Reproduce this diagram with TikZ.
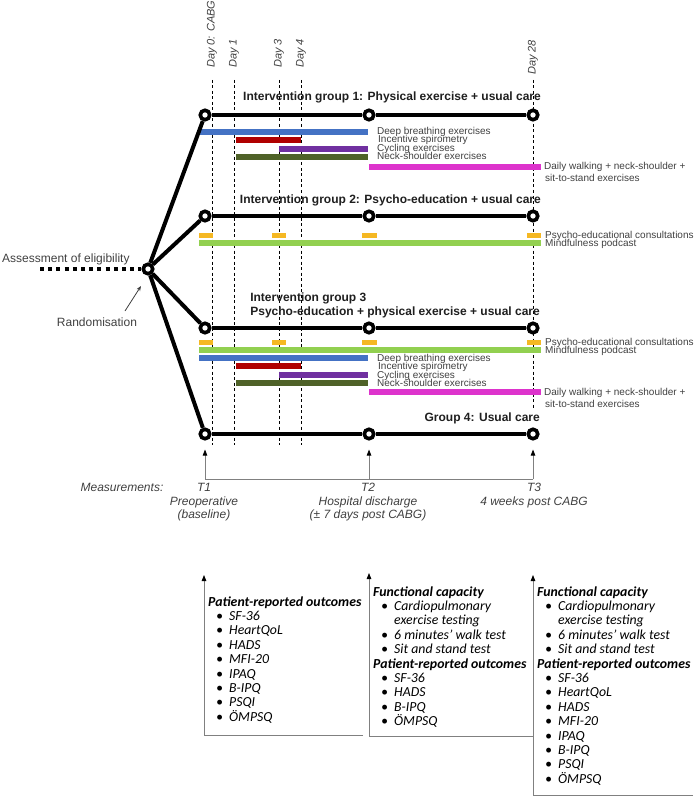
\documentclass[tikz,border=0pt]{standalone}
\usepackage{fontspec}
\setmainfont{Liberation Sans}
\newfontfamily\calfont{Carlito}
\usetikzlibrary{arrows.meta}
\definecolor{cblue}{HTML}{4472C4}
\definecolor{cred}{HTML}{B00000}
\definecolor{cpurple}{HTML}{7030A0}
\definecolor{cgreen}{HTML}{4F6228}
\definecolor{cmagenta}{HTML}{DD33CC}
\definecolor{corange}{HTML}{F5B823}
\definecolor{clgreen}{HTML}{92D050}
\definecolor{labelgray}{HTML}{404040}
\definecolor{titlegray}{HTML}{1F1F1F}
\definecolor{linegray}{HTML}{808080}
\newcommand\bxh[1]{\bfseries #1}
\newcommand\bxb[1]{\hspace*{8pt}\makebox[13pt][l]{\textbullet}#1}
\newcommand\bxc[1]{\hspace*{21pt}#1}
\newcommand\boxlist[4]{%
  \foreach \k/\t [count=\i from 0] in {#3} {
    \node[boxtxt] (#4-\i) at (#1,{#2+14.4*\i}) {\csname bx\k\endcsname{\t}};
  }}
\begin{document}
\begin{tikzpicture}[x=1pt,y=-1pt,
  tl/.style={line width=4pt},
  dot/.style={circle,draw,line width=3.6pt,fill=white,minimum size=9.5pt,inner sep=0pt},
  bar/.style={line width=6pt},
  obar/.style={line width=5pt,draw=corange},
  dayline/.style={dash pattern=on 3pt off 2.5pt,line width=0.7pt},
  lbl/.style={font=\fontsize{10}{10}\selectfont,text=labelgray,inner sep=0pt,anchor=base west},
  ttl/.style={font=\fontsize{12}{12}\selectfont\bfseries,text=titlegray,inner sep=0pt},
  meas/.style={font=\fontsize{12}{12}\selectfont\itshape,text=labelgray,inner sep=0pt,anchor=base},
  daylbl/.style={font=\fontsize{11}{11}\selectfont\itshape,text=labelgray,inner sep=0pt,rotate=90,anchor=west},
  garr/.style={line width=0.8pt,draw=linegray,-{Triangle[length=6pt,width=4.5pt,color=black]}},
  gline/.style={line width=0.8pt,draw=linegray},
  boxtxt/.style={font=\fontsize{13.8}{14}\selectfont\calfont\itshape,inner sep=0pt,anchor=base west}
]
\useasboundingbox (0,0) rectangle (700,805);

% day lines
\foreach \n/\x/\yb in {d0/212/445,d1/234/445,d3/279/445,d4/301/445,d28/533/408}{
  \coordinate (\n top) at (\x,80);
  \coordinate (\n bot) at (\x,\yb);
  \draw[dayline] (\n top) -- (\n bot);
}
\node[daylbl] (l0) at (212,68) {Day 0: CABG};
\node[daylbl] (l1) at (234,68) {Day 1};
\node[daylbl] (l3) at (279,68) {Day 3};
\node[daylbl] (l4) at (301,68) {Day 4};
\node[daylbl] (l28) at (533,75) {Day 28};

% group 1 bars
\draw[bar,cblue] (199,132) -- (368,132);
\draw[bar,cred] (236,140) -- (301,140);
\draw[bar,cpurple] (279,149) -- (368,149);
\draw[bar,cgreen] (236,157) -- (368,157);
\draw[bar,cmagenta] (369,167) -- (541,167);
\node[lbl] (a1) at (377,135) {Deep breathing exercises};
\node[lbl] (a2) at (378,143) {Incentive spirometry};
\node[lbl] (a3) at (377,152) {Cycling exercises};
\node[lbl] (a4) at (377,160) {Neck-shoulder exercises};
\node[lbl] (a5) at (544,170) {Daily walking + neck-shoulder +};
\node[lbl] (a6) at (545,182) {sit-to-stand exercises};

% group 2 bars
\foreach \xa/\xb in {199/213,272/286,362/377,527/541}{\draw[obar] (\xa,235) -- (\xb,235);}
\draw[bar,clgreen] (199,243) -- (541,243);
\node[lbl] (b1) at (545,238) {Psycho-educational consultations};
\node[lbl] (b2) at (545,246.5) {Mindfulness podcast};

% group 3 bars
\foreach \xa/\xb in {199/213,272/286,362/377,527/541}{\draw[obar] (\xa,342) -- (\xb,342);}
\draw[bar,clgreen] (199,350) -- (541,350);
\draw[bar,cblue] (199,358) -- (368,358);
\draw[bar,cred] (236,366) -- (301,366);
\draw[bar,cpurple] (279,375) -- (368,375);
\draw[bar,cgreen] (236,383) -- (368,383);
\draw[bar,cmagenta] (369,392) -- (541,392);
\node[lbl] (c1) at (545,345) {Psycho-educational consultations};
\node[lbl] (c2) at (545,353.5) {Mindfulness podcast};
\node[lbl] (c3) at (377,361) {Deep breathing exercises};
\node[lbl] (c4) at (378,369) {Incentive spirometry};
\node[lbl] (c5) at (377,378) {Cycling exercises};
\node[lbl] (c6) at (377,386) {Neck-shoulder exercises};
\node[lbl] (c7) at (544,395) {Daily walking + neck-shoulder +};
\node[lbl] (c8) at (545,407) {sit-to-stand exercises};

% titles
\node[ttl,anchor=base east] (t1) at (541,100.5) {Intervention group 1: Physical exercise + usual care};
\node[ttl,anchor=base east] (t2) at (541,203.5) {Intervention group 2: Psycho-education + usual care};
\node[ttl,anchor=base east] (t3b) at (540,315) {Psycho-education + physical exercise + usual care};
\node[ttl,anchor=base west] (t3a) at ([yshift=14pt]t3b.base west) {Intervention group 3};
\node[ttl,anchor=base east] (t4) at (540,421.5) {Group 4: Usual care};

% circles
\node[dot] (rand) at (148,269) {};
\foreach \g/\y in {1/115,2/216,3/328,4/434}{
  \node[dot] (g\g a) at (205,\y) {};
  \node[dot] (g\g b) at (369,\y) {};
  \node[dot] (g\g c) at (533,\y) {};
  \draw[tl] (g\g a) -- (g\g b);
  \draw[tl] (g\g b) -- (g\g c);
  \draw[tl] (rand) -- (g\g a);
}

% eligibility
\coordinate (elig) at (40,269);
\draw[line width=4pt,dash pattern=on 4pt off 4.2pt] (elig) -- (rand);
\node[font=\fontsize{12}{12}\selectfont,text=labelgray,inner sep=0pt,anchor=base west] (elab) at (2,262.5) {Assessment of eligibility};
\node[font=\fontsize{12}{12}\selectfont,text=labelgray,inner sep=0pt,anchor=base] (rlab) at (97,326.5) {Randomisation};
\coordinate (ra1) at (125,311);
\coordinate (ra2) at (141,286);
\draw[line width=0.8pt,draw=labelgray,-{Stealth[length=5pt,width=4pt]}] (ra1) -- (ra2);

% measurements
\coordinate (m1) at (205,479);
\coordinate (m2) at (369,479);
\coordinate (m3) at (533,479);
\draw[gline] (m1) -- (m3);
\draw[garr] (m1) -- ([yshift=-9pt]g4a.south);
\draw[garr] (m2) -- ([yshift=-9pt]g4b.south);
\draw[garr] (m3) -- ([yshift=-9pt]g4c.south);
\node[meas] (mm) at (122,491) {Measurements:};
\node[meas] (T1) at (204,491) {T1};
\node[meas] (T1a) at (204,505) {Preoperative};
\node[meas] (T1b) at (204,518.5) {(baseline)};
\node[meas] (T2) at (368,491) {T2};
\node[meas] (T2a) at (368,505) {Hospital discharge};
\node[meas] (T2b) at (368,518.5) {(± 7 days post CABG)};
\node[meas] (T3) at (534,491) {T3};
\node[meas] (T3a) at (534,505) {4 weeks post CABG};

% bottom brackets
\coordinate (b1r) at (363,735); \coordinate (b1c) at (204,735); \coordinate (b1t) at (204,575);
\coordinate (b2r) at (533,736); \coordinate (b2c) at (369,736); \coordinate (b2t) at (369,573);
\coordinate (b3r) at (693,795); \coordinate (b3c) at (533,795); \coordinate (b3t) at (533,575);
\draw[garr] (b1r) -- (b1c) -- (b1t);
\draw[garr] (b2r) -- (b2c) -- (b2t);
\draw[garr] (b3r) -- (b3c) -- (b3t);

\boxlist{208}{606}{h/Patient-reported outcomes,b/SF-36,b/HeartQoL,b/HADS,b/MFI-20,b/IPAQ,b/B-IPQ,b/PSQI,b/ÖMPSQ}{x1}
\boxlist{373}{596}{h/Functional capacity,b/Cardiopulmonary,c/exercise testing,b/6 minutes’ walk test,b/Sit and stand test,h/Patient-reported outcomes,b/SF-36,b/HADS,b/B-IPQ,b/ÖMPSQ}{x2}
\boxlist{537}{596}{h/Functional capacity,b/Cardiopulmonary,c/exercise testing,b/6 minutes’ walk test,b/Sit and stand test,h/Patient-reported outcomes,b/SF-36,b/HeartQoL,b/HADS,b/MFI-20,b/IPAQ,b/B-IPQ,b/PSQI,b/ÖMPSQ}{x3}
\end{tikzpicture}
\end{document}
